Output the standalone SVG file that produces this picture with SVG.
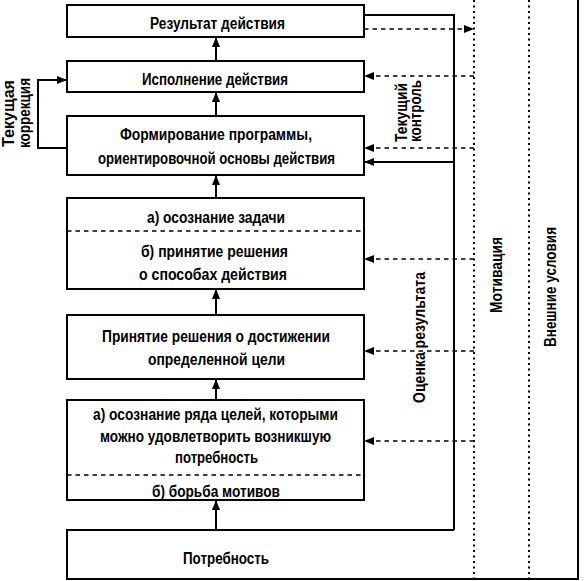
<svg xmlns="http://www.w3.org/2000/svg" width="584" height="581" viewBox="0 0 584 581">
<style>
.box{fill:#fff;stroke:#000;stroke-width:2}
.ln{fill:none;stroke:#000;stroke-width:2}
.dash{fill:none;stroke:#000;stroke-width:1.5;stroke-dasharray:4.5 4}
.dot{fill:none;stroke:#000;stroke-width:2;stroke-dasharray:2 3.5}
text{font-family:"Liberation Sans",Arial,sans-serif;font-size:16px;font-weight:bold;fill:#000}
</style>
<defs>
<marker id="ah" markerUnits="userSpaceOnUse" markerWidth="10" markerHeight="8" refX="10" refY="4" orient="auto">
<path d="M0,0 L10,4 L0,8 z" fill="#000"/>
</marker>
</defs>
<rect width="584" height="581" fill="#fff"/>
<g id="frame">
<path class="ln" d="M454,530 H67 V579 H578 V0"/>
<path class="dot" d="M474,0 V579"/>
<path class="dot" d="M529,0 V579"/>
</g>
<g id="n1"><rect class="box" x="67" y="5" width="297" height="32"/>
<text x="150" y="28.5" textLength="135" lengthAdjust="spacingAndGlyphs">Результат действия</text></g>
<g id="n2"><rect class="box" x="67" y="61" width="297" height="31"/>
<text x="142" y="84.5" textLength="146" lengthAdjust="spacingAndGlyphs">Исполнение действия</text></g>
<g id="n3"><rect class="box" x="67" y="116" width="297" height="59"/>
<text x="120" y="139.5" textLength="192" lengthAdjust="spacingAndGlyphs">Формирование программы,</text>
<text x="98" y="163.5" textLength="237" lengthAdjust="spacingAndGlyphs">ориентировочной основы действия</text></g>
<g id="n4"><rect class="box" x="67" y="198" width="297" height="91"/>
<path class="dash" d="M67,231 H364"/>
<text x="147" y="222.5" textLength="138" lengthAdjust="spacingAndGlyphs">а) осознание задачи</text>
<text x="141" y="256.5" textLength="147" lengthAdjust="spacingAndGlyphs">б) принятие решения</text>
<text x="139" y="279.5" textLength="148" lengthAdjust="spacingAndGlyphs">о способах действия</text></g>
<g id="n5"><rect class="box" x="67" y="315" width="297" height="64"/>
<text x="102" y="341.5" textLength="228" lengthAdjust="spacingAndGlyphs">Принятие решения о достижении</text>
<text x="148" y="364.5" textLength="137" lengthAdjust="spacingAndGlyphs">определенной цели</text></g>
<g id="n6"><rect class="box" x="67" y="400" width="297" height="100"/>
<path class="dash" d="M67,475 H364"/>
<text x="93" y="419.5" textLength="245" lengthAdjust="spacingAndGlyphs">а) осознание ряда целей, которыми</text>
<text x="100" y="441.5" textLength="231" lengthAdjust="spacingAndGlyphs">можно удовлетворить возникшую</text>
<text x="175" y="462.5" textLength="83" lengthAdjust="spacingAndGlyphs">потребность</text>
<text x="152" y="496.5" textLength="128" lengthAdjust="spacingAndGlyphs">б) борьба мотивов</text></g>
<g id="n7">
<text x="183" y="563.5" textLength="86" lengthAdjust="spacingAndGlyphs">Потребность</text></g>
<g id="labels">
<text transform="translate(14,147) rotate(-90)" textLength="67" lengthAdjust="spacingAndGlyphs">Текущая</text>
<text transform="translate(30,148) rotate(-90)" textLength="70" lengthAdjust="spacingAndGlyphs">коррекция</text>
<text transform="translate(407,142) rotate(-90)" textLength="59" lengthAdjust="spacingAndGlyphs">Текущий</text>
<text transform="translate(421,142) rotate(-90)" textLength="62" lengthAdjust="spacingAndGlyphs">контроль</text>
<text transform="translate(425,403) rotate(-90)" textLength="131" lengthAdjust="spacingAndGlyphs">Оценка результата</text>
<text transform="translate(502,313) rotate(-90)" textLength="76" lengthAdjust="spacingAndGlyphs">Мотивация</text>
<text transform="translate(556,347) rotate(-90)" textLength="120" lengthAdjust="spacingAndGlyphs">Внешние условия</text>
</g>
<g id="connectors">
<path class="ln" d="M216,61 V37" marker-end="url(#ah)"/>
<path class="ln" d="M216,116 V92" marker-end="url(#ah)"/>
<path class="ln" d="M216,198 V175" marker-end="url(#ah)"/>
<path class="ln" d="M216,315 V289" marker-end="url(#ah)"/>
<path class="ln" d="M216,400 V379" marker-end="url(#ah)"/>
<path class="ln" d="M216,530 V500" marker-end="url(#ah)"/>
<path class="ln" d="M67,148 H38 V80 H67" marker-end="url(#ah)"/>
<path class="ln" d="M364,15 H454 V530"/>
<path class="ln" d="M454,162 H364" marker-end="url(#ah)"/>
<path class="dash" d="M364,29 H474" marker-end="url(#ah)"/>
<path class="dash" d="M474,76 H364" marker-end="url(#ah)"/>
<path class="dash" d="M474,148 H364" marker-end="url(#ah)"/>
<path class="dash" d="M474,259 H364" marker-end="url(#ah)"/>
<path class="dash" d="M474,351 H364" marker-end="url(#ah)"/>
<path class="dash" d="M474,441 H364" marker-end="url(#ah)"/>
</g>
</svg>
